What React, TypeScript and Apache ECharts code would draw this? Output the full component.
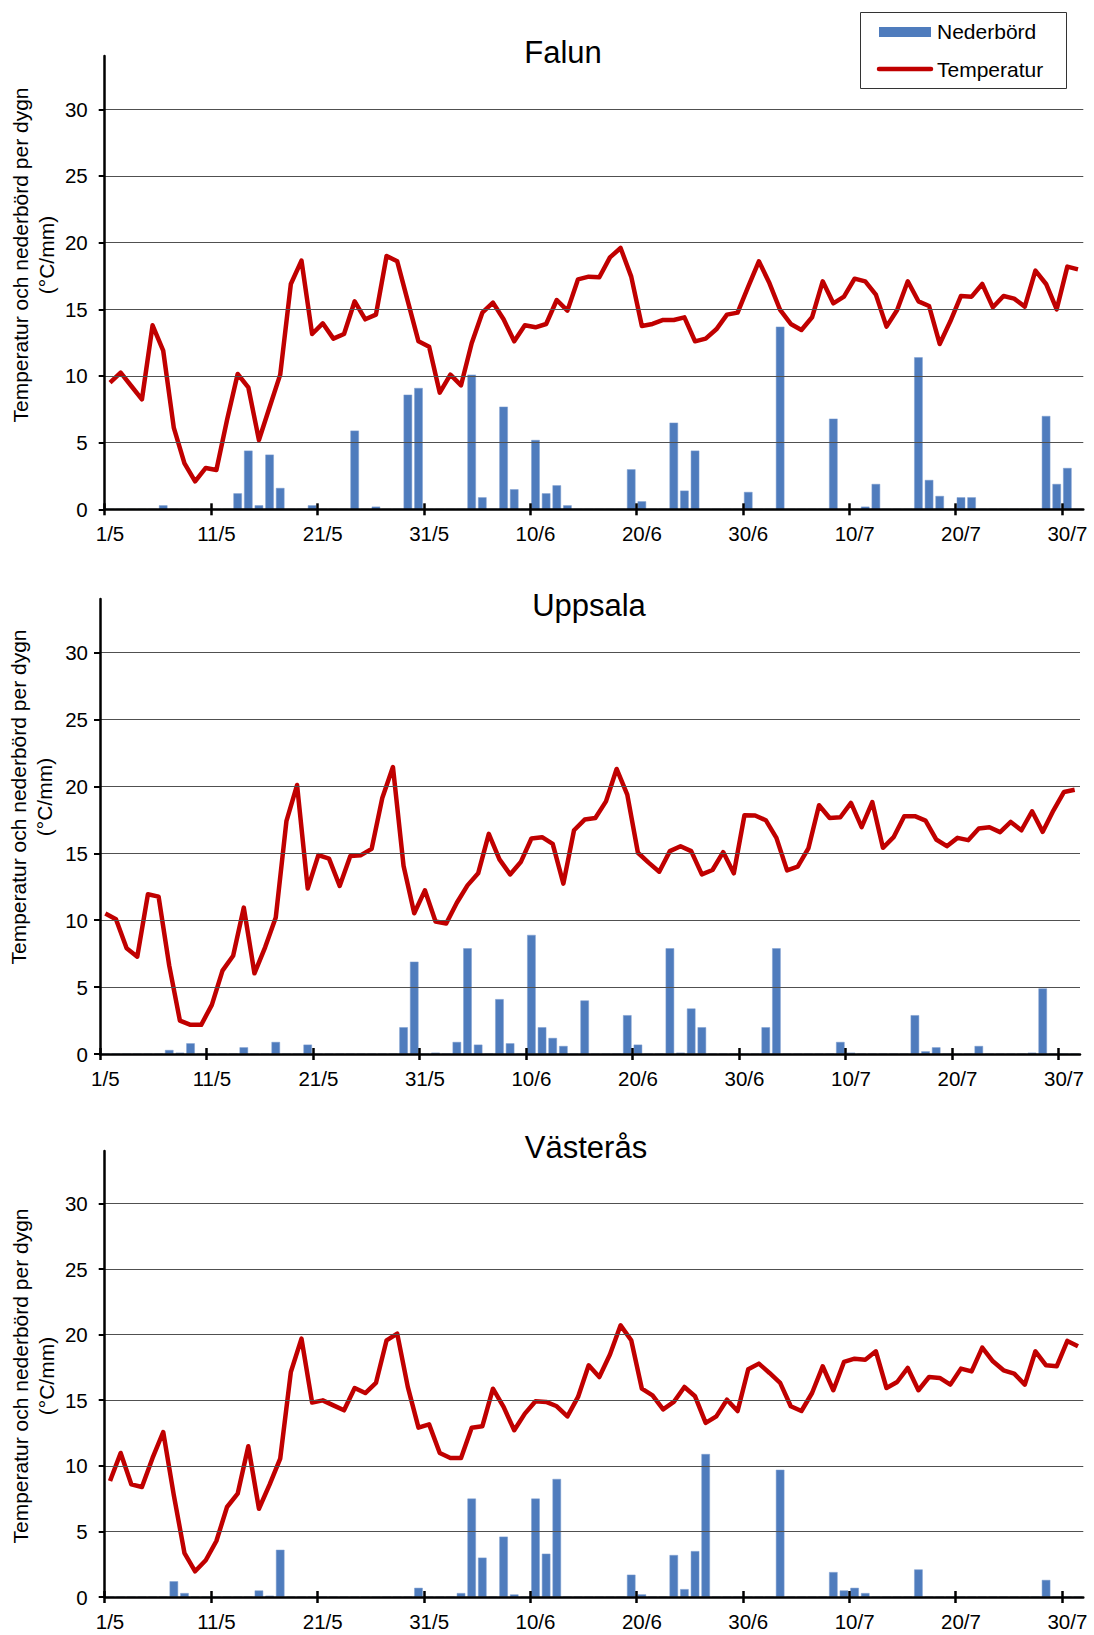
import React, { useEffect, useRef } from "react";
import * as echarts from "echarts";

const FONT = '"Liberation Sans", Arial, Helvetica, sans-serif';

// Category labels: 1/5 .. 31/7
const monthDays = [
  { m: 5, n: 31 },
  { m: 6, n: 30 },
  { m: 7, n: 31 },
];
const days: string[] = [];
monthDays.forEach(({ m, n }) => {
  for (let d = 1; d <= n; d++) days.push(`${d}/${m}`);
});

const yTicks = [0, 5, 10, 15, 20, 25, 30];
const xTicks = [0, 10, 20, 30, 40, 50, 60, 70, 80, 90];

// Falun
const falunTemp = [
  9.5, 10.25, 9.25, 8.25, 13.8, 11.9, 6.1, 3.45, 2.1, 3.1,
  2.95, 6.7, 10.15, 9.15, 5.2, 7.65, 10.1, 16.9, 18.65, 13.15,
  13.95, 12.8, 13.15, 15.6, 14.25, 14.6, 19.0, 18.6, 15.6, 12.6,
  12.2, 8.75, 10.1, 9.3, 12.45, 14.75, 15.5, 14.25, 12.6, 13.8,
  13.65, 13.9, 15.7, 14.9, 17.25, 17.45, 17.4, 18.9, 19.6, 17.45,
  13.75, 13.9, 14.2, 14.2, 14.4, 12.6, 12.8, 13.5, 14.6, 14.75,
  16.7, 18.6, 16.95, 14.95, 13.9, 13.45, 14.4, 17.1, 15.45, 15.95,
  17.3, 17.1, 16.1, 13.7, 14.95, 17.1, 15.6, 15.25, 12.4, 14.1,
  16.0, 15.95, 16.9, 15.15, 16.0, 15.8, 15.2, 17.9, 16.9, 15.0,
  18.2, 18.0,
];
const falunRain = [
  0, 0, 0, 0, 0, 0.3, 0, 0, 0, 0,
  0, 0, 1.2, 4.4, 0.3, 4.1, 1.6, 0, 0, 0.3,
  0, 0, 0, 5.9, 0, 0.2, 0, 0, 8.6, 9.1,
  0, 0, 0, 0, 10.1, 0.9, 0, 7.7, 1.5, 0,
  5.2, 1.2, 1.8, 0.3, 0, 0, 0, 0, 0, 3.0,
  0.6, 0, 0, 6.5, 1.4, 4.4, 0, 0, 0, 0,
  1.3, 0, 0, 13.7, 0, 0, 0, 0, 6.8, 0,
  0, 0.2, 1.9, 0, 0, 0, 11.4, 2.2, 1.0, 0,
  0.9, 0.9, 0, 0, 0, 0, 0, 0, 7.0, 1.9,
  3.1, 0,
];

// Uppsala
const uppsalaTemp = [
  10.5, 10.07, 7.9, 7.27, 11.94, 11.76, 6.6, 2.5, 2.18, 2.18,
  3.67, 6.23, 7.34, 10.94, 6.03, 7.97, 10.2, 17.4, 20.1, 12.36,
  14.86, 14.6, 12.56, 14.79, 14.86, 15.33, 19.13, 21.44, 14.04, 10.52,
  12.23, 9.9, 9.75, 11.3, 12.6, 13.5, 16.45, 14.54, 13.42, 14.34,
  16.1, 16.2, 15.7, 12.73, 16.72, 17.52, 17.64, 18.88, 21.3, 19.38,
  15.04, 14.3, 13.62, 15.16, 15.53, 15.16, 13.42, 13.75, 15.09, 13.5,
  17.84, 17.82, 17.47, 16.15, 13.72, 14.0, 15.36, 18.59, 17.64, 17.69,
  18.76, 16.95, 18.83, 15.41, 16.2, 17.77, 17.77, 17.44, 16.03, 15.53,
  16.15, 15.98, 16.85, 16.95, 16.58, 17.34, 16.72, 18.14, 16.6, 18.19,
  19.58, 19.75,
];
const uppsalaRain = [
  0, 0, 0, 0, 0, 0, 0.3, 0.1, 0.8, 0,
  0, 0, 0, 0.5, 0, 0, 0.9, 0, 0, 0.7,
  0, 0, 0, 0, 0, 0, 0, 0, 2.0, 6.9,
  0, 0.1, 0, 0.9, 7.9, 0.7, 0, 4.1, 0.8, 0,
  8.9, 2.0, 1.2, 0.6, 0, 4.0, 0, 0, 0, 2.9,
  0.7, 0, 0, 7.9, 0.1, 3.4, 2.0, 0, 0, 0,
  0, 0, 2.0, 7.9, 0, 0, 0, 0, 0, 0.9,
  0.1, 0, 0, 0, 0, 0, 2.9, 0.2, 0.5, 0,
  0, 0, 0.6, 0, 0, 0, 0, 0.1, 4.9, 0,
  0, 0,
];

// Västerås
const vasterasTemp = [
  8.84, 10.98, 8.59, 8.39, 10.6, 12.58, 7.75, 3.35, 1.96, 2.8,
  4.27, 6.86, 7.88, 11.49, 6.73, 8.56, 10.55, 17.15, 19.7, 14.82,
  14.99, 14.61, 14.23, 15.93, 15.55, 16.32, 19.57, 20.08, 16.0, 12.91,
  13.16, 10.98, 10.6, 10.6, 12.91, 13.01, 15.88, 14.49, 12.71, 13.98,
  14.92, 14.87, 14.54, 13.77, 15.25, 17.66, 16.77, 18.48, 20.71, 19.57,
  15.88, 15.37, 14.31, 14.87, 16.01, 15.3, 13.27, 13.77, 15.04, 14.18,
  17.36, 17.79, 17.08, 16.32, 14.54, 14.18, 15.55, 17.59, 15.76, 17.92,
  18.17, 18.09, 18.73, 15.93, 16.39, 17.46, 15.76, 16.77, 16.7, 16.19,
  17.41, 17.2, 19.01, 17.97, 17.28, 17.03, 16.19, 18.73, 17.66, 17.59,
  19.52, 19.11,
];
const vasterasRain = [
  0, 0, 0, 0, 0, 0, 1.2, 0.3, 0, 0,
  0, 0, 0, 0, 0.5, 0.1, 3.6, 0, 0, 0,
  0, 0, 0, 0, 0, 0, 0, 0, 0, 0.7,
  0, 0, 0, 0.3, 7.5, 3.0, 0, 4.6, 0.2, 0,
  7.5, 3.3, 9.0, 0, 0, 0, 0, 0, 0, 1.7,
  0.2, 0, 0, 3.2, 0.6, 3.5, 10.9, 0, 0, 0,
  0, 0, 0, 9.7, 0, 0, 0, 0, 1.9, 0.5,
  0.7, 0.3, 0, 0, 0, 0, 2.1, 0, 0, 0,
  0, 0, 0, 0, 0, 0, 0, 0, 1.3, 0,
  0, 0,
];

const yTitle = "Temperatur och nederbörd per dygn\n(°C/mm)";

const panels = [
  {
    title: "Falun",
    temp: falunTemp,
    rain: falunRain,
    grid: { left: 104.7, top: 56, width: 978.6, height: 453.3 },
    labelMargin: 17,
    titlePos: [563, 52],
    yTitlePos: [33, 255],
  },
  {
    title: "Uppsala",
    temp: uppsalaTemp,
    rain: uppsalaRain,
    grid: { left: 100, top: 599, width: 980, height: 455 },
    labelMargin: 12,
    titlePos: [589, 605],
    yTitlePos: [31, 797],
  },
  {
    title: "Västerås",
    temp: vasterasTemp,
    rain: vasterasRain,
    grid: { left: 104.7, top: 1151, width: 978.6, height: 446 },
    labelMargin: 17,
    titlePos: [586, 1147],
    yTitlePos: [33, 1376],
  },
];

function buildOption() {
  const grid: any[] = [];
  const xAxis: any[] = [];
  const yAxis: any[] = [];
  const series: any[] = [];
  const graphic: any[] = [];

  panels.forEach((p, i) => {
    grid.push({ ...p.grid, containLabel: false });
    xAxis.push({
      type: "category",
      gridIndex: i,
      position: "bottom",
      data: days,
      boundaryGap: true,
      axisLine: { show: true, lineStyle: { color: "#000", width: 2.5 } },
      axisTick: { show: false },
      axisLabel: {
        interval: 9,
        fontSize: 20.5,
        color: "#000",
        fontFamily: FONT,
        margin: 14,
      },
      splitLine: { show: false },
      z: 5,
    });
    [false, true].forEach((inside) => {
      xAxis.push({
        type: "value",
        gridIndex: i,
        position: "bottom",
        min: 0,
        max: 92,
        interval: 10,
        axisLine: { show: false },
        axisLabel: { show: false },
        splitLine: { show: false },
        axisTick: {
          show: true,
          inside,
          length: 6,
          customValues: xTicks,
          lineStyle: { color: "#000", width: 2.5 },
        },
        z: 5,
      });
    });
    yAxis.push({
      type: "value",
      gridIndex: i,
      min: 0,
      max: 34,
      interval: 5,
      axisLine: { show: true, lineStyle: { color: "#000", width: 2.5 } },
      axisTick: {
        show: true,
        length: 6,
        customValues: yTicks,
        lineStyle: { color: "#000", width: 2 },
      },
      axisLabel: {
        fontSize: 20.5,
        color: "#000",
        fontFamily: FONT,
        margin: p.labelMargin,
        customValues: yTicks,
      },
      splitLine: {
        show: true,
        showMinLine: false,
        lineStyle: { color: "#505050", width: 1 },
      },
      z: 5,
    });
    series.push({
      name: "Nederbörd",
      type: "bar",
      xAxisIndex: i * 3,
      yAxisIndex: i,
      data: p.rain,
      barWidth: 8.5,
      itemStyle: { color: "#4F7CBD", borderColor: "#7E9FD0", borderWidth: 0.5 },
      z: 2,
    });
    series.push({
      name: "Temperatur",
      type: "line",
      xAxisIndex: i * 3,
      yAxisIndex: i,
      data: p.temp,
      symbol: "none",
      smooth: false,
      lineStyle: { color: "#C00000", width: 4.5, join: "round" },
      itemStyle: { color: "#C00000" },
      z: 3,
    });

    graphic.push({
      type: "text",
      x: p.titlePos[0],
      y: p.titlePos[1],
      style: {
        text: p.title,
        fontSize: 31,
        fontFamily: FONT,
        fill: "#000",
        align: "center",
        verticalAlign: "middle",
      },
    });
    graphic.push({
      type: "text",
      x: p.yTitlePos[0],
      y: p.yTitlePos[1],
      rotation: Math.PI / 2,
      style: {
        text: yTitle,
        fontSize: 21,
        lineHeight: 26,
        fontFamily: FONT,
        fill: "#000",
        align: "center",
        verticalAlign: "middle",
      },
    });
  });

  // Legend box
  graphic.push(
    {
      type: "rect",
      shape: { x: 860.5, y: 12.5, width: 206, height: 76 },
      style: { fill: "#fff", stroke: "#333", lineWidth: 1 },
      z: 10,
    },
    {
      type: "rect",
      shape: { x: 879, y: 27, width: 52, height: 10 },
      style: { fill: "#4F7CBD" },
      z: 11,
    },
    {
      type: "line",
      shape: { x1: 879, y1: 69, x2: 931, y2: 69 },
      style: { stroke: "#C00000", lineWidth: 4.5, lineCap: "round" },
      z: 11,
    },
    {
      type: "text",
      x: 937,
      y: 31,
      style: {
        text: "Nederbörd",
        fontSize: 21,
        fontFamily: FONT,
        fill: "#000",
        align: "left",
        verticalAlign: "middle",
      },
      z: 11,
    },
    {
      type: "text",
      x: 937,
      y: 69,
      style: {
        text: "Temperatur",
        fontSize: 21,
        fontFamily: FONT,
        fill: "#000",
        align: "left",
        verticalAlign: "middle",
      },
      z: 11,
    }
  );

  return {
    animation: false,
    backgroundColor: "#fff",
    grid,
    xAxis,
    yAxis,
    series,
    graphic,
  };
}

export default function App() {
  const ref = useRef<HTMLDivElement>(null);
  useEffect(() => {
    if (!ref.current) return;
    const chart = echarts.init(ref.current, undefined, { renderer: "svg" });
    chart.setOption(buildOption() as any);
    return () => chart.dispose();
  }, []);
  return (
    <div
      ref={ref}
      style={{ position: "absolute", left: 0, top: 0, width: 1094, height: 1635 }}
    />
  );
}
